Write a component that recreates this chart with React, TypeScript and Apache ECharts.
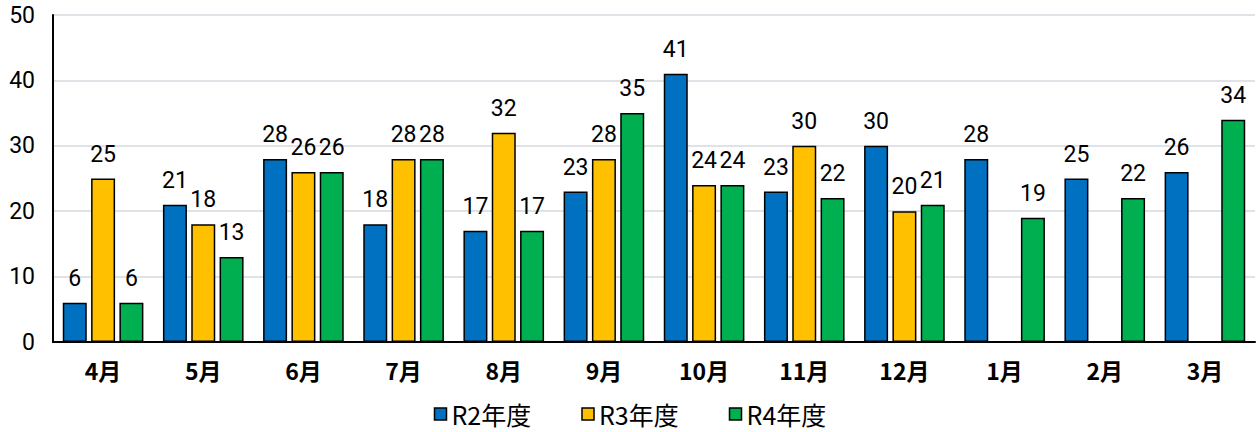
import React, { useEffect, useRef } from "react";
import * as echarts from "echarts";

const categories = ["4月", "5月", "6月", "7月", "8月", "9月", "10月", "11月", "12月", "1月", "2月", "3月"];
const r2 = [6, 21, 28, 18, 17, 23, 41, 23, 30, 28, 25, 26];
const r3: (number | null)[] = [25, 18, 26, 28, 32, 28, 24, 30, 20, null, null, null];
const r4 = [6, 13, 26, 28, 17, 35, 24, 22, 21, 19, 22, 34];
const seriesNames = ["R2年度", "R3年度", "R4年度"];
const colors = ["#0070C0", "#FFC000", "#00B050"];

const numFont = "'Liberation Sans Narrow', 'Roboto', 'Noto Sans CJK JP', sans-serif";
const cjkFont = "'Noto Sans CJK JP', sans-serif";

export default function App() {
  const ref = useRef<HTMLDivElement>(null);
  useEffect(() => {
    if (!ref.current) return;
    const chart = echarts.init(ref.current, null, { renderer: "svg" });
    const mk = (name: string, data: (number | null)[], color: string) => ({
      name,
      type: "bar",
      data,
      barWidth: 24,
      barGap: "18%",
      itemStyle: { color, borderColor: "#000", borderWidth: 1.5 },
      label: {
        show: true,
        position: "top",
        distance: 13,
        color: "#000",
        fontSize: 23,
        fontFamily: numFont,
      },
    });
    chart.setOption({
      animation: false,
      grid: { left: 53, right: 5, top: 15, bottom: 90, containLabel: false },
      legend: {
        top: 401,
        left: "center",
        padding: 0,
        itemWidth: 12,
        itemHeight: 12,
        itemGap: 50,
        itemTextGap: 2,
        icon: "rect",
        textStyle: { fontSize: 25, lineHeight: 26, color: "#000", fontFamily: cjkFont },
        data: seriesNames.map((n, i) => ({
          name: n,
          itemStyle: { color: colors[i], borderColor: "#000", borderWidth: 1.5 },
        })),
      },
      xAxis: {
        type: "category",
        data: categories,
        axisLine: { lineStyle: { color: "#000", width: 2 } },
        axisTick: { show: false },
        axisLabel: {
          color: "#000",
          fontSize: 23,
          fontWeight: "bold",
          margin: 16,
          fontFamily: cjkFont,
        },
      },
      yAxis: {
        type: "value",
        min: 0,
        max: 50,
        interval: 10,
        axisLine: { show: true, lineStyle: { color: "#000", width: 2 } },
        axisTick: { show: false },
        splitLine: { lineStyle: { color: "#dfe3e8", width: 2 } },
        axisLabel: { color: "#000", fontSize: 23, margin: 18, fontFamily: numFont },
      },
      series: [mk(seriesNames[0], r2, colors[0]), mk(seriesNames[1], r3, colors[1]), mk(seriesNames[2], r4, colors[2])],
    });
    return () => chart.dispose();
  }, []);
  return <div ref={ref} style={{ position: "absolute", left: 0, top: 0, width: 1260, height: 432 }} />;
}
